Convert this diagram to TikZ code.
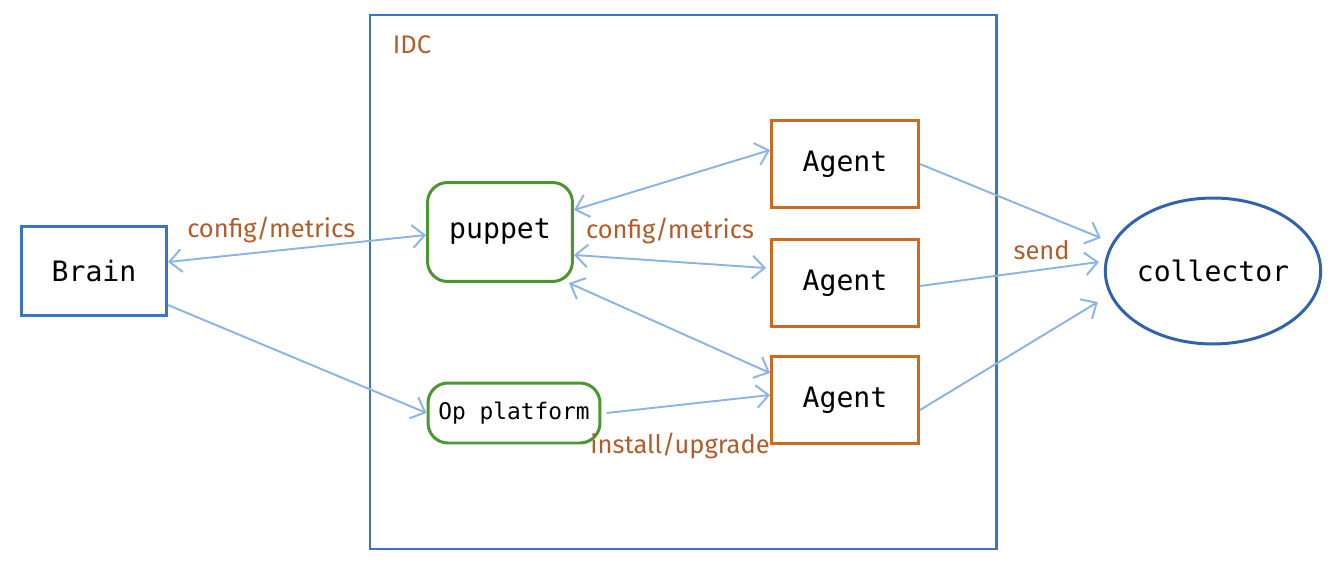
\documentclass[tikz,border=0pt]{standalone}
\usepackage{fontspec}
\setmonofont{DejaVu Sans Mono}
\newfontfamily\lblfont{Fira Sans}
\usepackage{tikz}
\usetikzlibrary{arrows.meta, positioning, shapes, calc}
\definecolor{idcblue}{RGB}{58,116,196}
\definecolor{colblue}{RGB}{47,100,173}
\definecolor{agentorange}{RGB}{204,106,31}
\definecolor{pupgreen}{RGB}{76,150,50}
\definecolor{arrblue}{RGB}{138,180,230}
\definecolor{lbltext}{RGB}{178,92,42}
\tikzset{
    %Define standard arrow tip
    tip/.tip={Straight Barb[length=7pt,width=13pt]},
    %Define style for boxes
    bbox/.style={
           rectangle,
           draw=idcblue, line width=1.7pt,
           minimum width=2.9cm,
           minimum height=1.78cm,
           font=\ttfamily\fontsize{16}{18}\selectfont,
           text centered},
    abox/.style={
           rectangle,
           draw=agentorange, line width=1.7pt,
           minimum width=2.94cm,
           minimum height=1.76cm,
           font=\ttfamily\fontsize{16}{18}\selectfont,
           text centered},
    gbox/.style={
           rectangle,
           rounded corners=0.4cm,
           draw=pupgreen, line width=1.7pt,
           font=\ttfamily\fontsize{16}{18}\selectfont,
           text centered},
    coval/.style={
           ellipse,
           draw=colblue, line width=1.7pt,
           inner sep=0pt,
           minimum width=3.88cm,
           minimum height=2.92cm,
           font=\ttfamily\fontsize{16}{18}\selectfont},
    lbl/.style={
           text=lbltext,
           font=\lblfont\fontsize{14.5}{16}\selectfont},
    % Define arrow style
    arr/.style={
           -tip,
           draw=arrblue,
           line width=1.1pt},
    darr/.style={
           tip-tip,
           draw=arrblue,
           line width=1.1pt}
}

\begin{document}
\begin{tikzpicture}[x=0.02cm, y=-0.02cm]
    \useasboundingbox (0,0) rectangle (1332,564);
    % IDC
    \draw[idcblue, line width=1.7pt] (370,15) rectangle (996,549);
    \node[lbl] at (412,45) (idc) {IDC};

    % NODES
    \node[bbox] at (94,271) (brain) {Brain};
    \node[gbox, minimum width=2.9cm, minimum height=1.98cm] at (500,232) (puppet) {puppet};
    \node[gbox, minimum width=3.44cm, minimum height=1.2cm,
          font=\ttfamily\fontsize{13}{15}\selectfont] at (514,413) (op) {Op platform};
    \node[abox] at (845,164) (agentA) {Agent};
    \node[abox] at (845,283) (agentB) {Agent};
    \node[abox] at (845,400) (agentC) {Agent};
    \node[coval] at (1213,271) (collector) {collector};

    % BRAIN
    \draw[darr] ($(brain.east)+(0,-9)$) -- node[lbl, above=1pt, pos=0.4]{config/metrics} ($(puppet.west)+(0,3)$);
    \draw[arr] ($(brain.east)+(0,34)$) -- (op.west);

    % PUPPET
    \draw[darr] ($(puppet.east)+(0,-22)$) -- ($(agentA.west)+(0,-14)$);
    \draw[darr] ($(puppet.east)+(0,23)$) -- node[lbl, above=6pt, pos=0.5]{config/metrics} ($(agentB.west)+(-4,-15)$);
    \draw[darr] ($(puppet.south east)+(-5,0)$) -- ($(agentC.west)+(0,-27)$);

    % OP PLATFORM
    \draw[arr] ($(op.east)+(5,0)$) -- node[lbl, below=12pt, pos=0.45]{install/upgrade} ($(agentC.west)+(0,-5)$);

    % SEND
    \draw[arr] (agentA.east) -- ($(collector.west)+(-3,-33)$);
    \draw[arr] ($(agentB.east)+(0,3)$) -- node[lbl, above=2pt, pos=0.68]{send} ($(collector.west)+(-5,-9)$);
    \draw[arr] ($(agentC.east)+(0,10)$) -- ($(collector.west)+(-6,31)$);

    \end{tikzpicture}
\end{document}
